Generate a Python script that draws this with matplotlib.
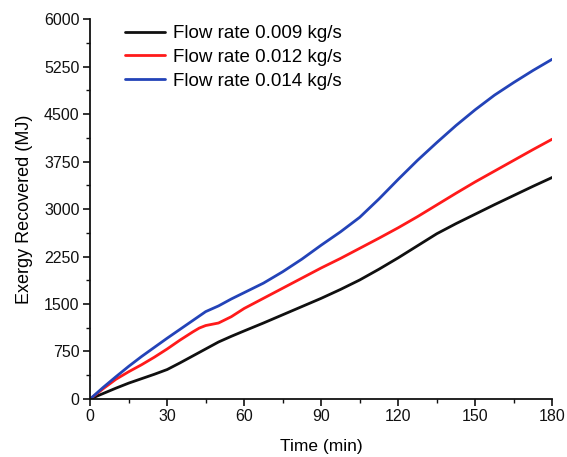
import matplotlib
matplotlib.use("Agg")
import matplotlib.pyplot as plt
from matplotlib.ticker import MultipleLocator

plt.rcParams['font.family'] = ['Liberation Sans', 'DejaVu Sans']

# Time axis (min)
time_min = [0, 5, 10, 15, 20, 25, 30, 35, 40, 42.5, 45, 50, 55, 60, 67.5, 75, 82.5, 90,
            97.5, 105, 112.5, 120, 127.5, 135, 142.5, 150, 157.5, 165, 172.5, 180]

# Exergy recovered (MJ) for each flow rate
exergy_0009 = [0, 85, 170, 250, 320, 390, 465, 570, 680, 735, 790, 900, 990, 1075, 1200, 1330, 1460, 1590,
               1730, 1880, 2050, 2230, 2420, 2610, 2770, 2920, 3070, 3215, 3360, 3500]
exergy_0012 = [0, 160, 310, 430, 540, 660, 790, 930, 1060, 1120, 1160, 1200, 1300, 1430, 1590, 1750, 1910, 2070,
               2220, 2380, 2540, 2705, 2880, 3065, 3250, 3430, 3600, 3770, 3940, 4105]
exergy_0014 = [0, 180, 350, 515, 670, 815, 960, 1100, 1240, 1310, 1380, 1470, 1580, 1680, 1830, 2010, 2210, 2430,
               2640, 2870, 3160, 3470, 3770, 4050, 4320, 4570, 4800, 5000, 5190, 5368]

series_labels = ["Flow rate 0.009 kg/s", "Flow rate 0.012 kg/s", "Flow rate 0.014 kg/s"]
series_colors = ["#101010", "#ff1a1a", "#2343b8"]

fig = plt.figure(figsize=(5.67, 4.57), dpi=100)
ax = fig.add_axes([0.159, 0.127, 0.815, 0.831])

for y, lab, col in zip([exergy_0009, exergy_0012, exergy_0014], series_labels, series_colors):
    ax.plot(time_min, y, color=col, lw=2.0, label=lab, solid_capstyle='round', solid_joinstyle='round')

ax.set_xlim(0, 180)
ax.set_ylim(0, 6000)
ax.xaxis.set_major_locator(MultipleLocator(30))
ax.xaxis.set_minor_locator(MultipleLocator(15))
ax.yaxis.set_major_locator(MultipleLocator(750))
ax.yaxis.set_minor_locator(MultipleLocator(375))

for side in ("top", "right"):
    ax.spines[side].set_visible(False)
for side in ("left", "bottom"):
    ax.spines[side].set_linewidth(1.3)
    ax.spines[side].set_color("#111111")

ax.tick_params(which="major", direction="out", length=5, width=1.2, labelsize=11.5,
               colors="#111111", pad=2.5)
ax.tick_params(which="minor", direction="out", length=3, width=1.0, colors="#111111")

ax.set_xlabel("Time (min)", fontsize=12.5, labelpad=10.5)
ax.set_ylabel("Exergy Recovered (MJ)", fontsize=13, labelpad=8)

ax.legend(loc="upper left", bbox_to_anchor=(125 / 567, 1 - 25 / 457),
          bbox_transform=fig.transFigure, frameon=False, fontsize=13.5,
          handlelength=2.15, handletextpad=0.42, labelspacing=0.36,
          borderaxespad=0, borderpad=0)

fig.savefig("out.png", dpi=100)
